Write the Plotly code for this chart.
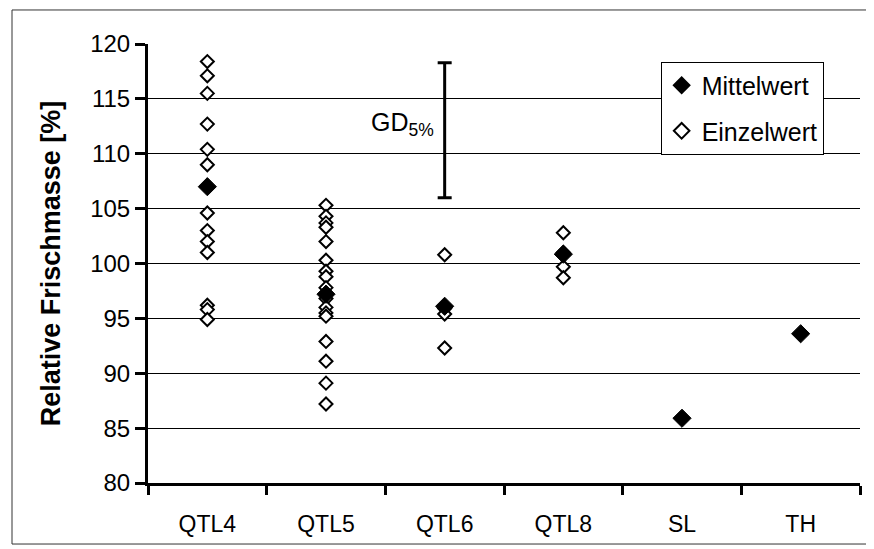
import plotly.graph_objects as go

categories = ["QTL4", "QTL5", "QTL6", "QTL8", "SL", "TH"]

# Mean values (Mittelwert)
mean_values = [107.0, 97.2, 96.1, 100.85, 85.9, 93.6]

# Single values (Einzelwert)
qtl4_values = [118.4, 117.1, 115.5, 112.7, 110.4, 109.0, 104.6, 103.0, 102.0, 101.0, 96.2, 95.8, 94.9]
qtl5_values = [105.3, 104.3, 103.7, 103.3, 102.0, 100.3, 99.3, 98.8, 97.8, 97.3, 96.8, 96.0, 95.5, 95.2, 92.9, 91.1, 89.1, 87.2]
qtl6_values = [100.8, 95.9, 95.4, 92.3]
qtl8_values = [102.8, 101.0, 99.7, 98.7]

# GD 5% bar
gd_low = 106.0
gd_high = 118.3
gd_category = "QTL6"

single_x = (["QTL4"] * len(qtl4_values) + ["QTL5"] * len(qtl5_values)
            + ["QTL6"] * len(qtl6_values) + ["QTL8"] * len(qtl8_values))
single_y = qtl4_values + qtl5_values + qtl6_values + qtl8_values

FONT = "Liberation Sans, Arial, sans-serif"

fig = go.Figure()

fig.add_trace(go.Scatter(
    x=single_x, y=single_y, mode="markers", name="Einzelwert",
    marker=dict(symbol="diamond", size=10, color="white",
                line=dict(color="black", width=2)),
    legendrank=2, legendgroup="einzel",
))

fig.add_trace(go.Scatter(
    x=categories, y=mean_values, mode="markers", name="Mittelwert",
    marker=dict(symbol="diamond", size=14, color="black",
                line=dict(color="black", width=1)),
    legendrank=1, legendgroup="mittel",
))

gd_mid = (gd_low + gd_high) / 2
gd_half = (gd_high - gd_low) / 2
fig.add_trace(go.Scatter(
    x=[gd_category], y=[gd_mid], mode="markers",
    marker=dict(size=1, color="rgba(0,0,0,0)"),
    error_y=dict(type="data", array=[gd_half], symmetric=True,
                 color="black", thickness=3, width=7),
    showlegend=False, hoverinfo="skip",
))

fig.add_annotation(
    x=gd_category, y=gd_mid, xref="x", yref="y",
    text="GD<sub>5%</sub>", showarrow=False,
    xanchor="right", yanchor="middle", xshift=-9, yshift=6,
    font=dict(family=FONT, size=25, color="black"),
)

# outer frame
fig.add_shape(type="rect", xref="paper", yref="paper",
              x0=-0.191, x1=1.0126, y0=-0.139, y1=1.0775,
              line=dict(color="#333333", width=1), layer="below")

# the page body has an 8px margin, so the figure is sized to fit the window
fig.update_layout(
    width=866, height=541,
    margin=dict(l=140, r=14, t=36, b=66, autoexpand=False),
    paper_bgcolor="white", plot_bgcolor="white",
    font=dict(family=FONT, size=22, color="black"),
    showlegend=True,
    legend=dict(
        x=0.72, y=0.96, xanchor="left", yanchor="top",
        bgcolor="white", bordercolor="black", borderwidth=1,
        font=dict(family=FONT, size=25, color="black"),
        itemsizing="constant", tracegroupgap=10, itemwidth=30,
    ),
    xaxis=dict(
        type="category", categoryorder="array", categoryarray=categories,
        range=[-0.5, len(categories) - 0.5], automargin=False,
        showline=True, linecolor="black", linewidth=3,
        ticks="outside", ticklen=9, tickwidth=3, tickcolor="black",
        tickson="boundaries", showgrid=False,
        tickfont=dict(family=FONT, size=23, color="black"),
        ticklabelstandoff=18,
    ),
    yaxis=dict(
        range=[80, 120], dtick=5, tick0=80, automargin=False,
        showline=True, linecolor="black", linewidth=3,
        ticks="outside", ticklen=10, tickwidth=3, tickcolor="black",
        showgrid=True, gridcolor="black", gridwidth=1, zeroline=False,
        tickfont=dict(family=FONT, size=24, color="black"),
        title=dict(text="<b>Relative Frischmasse [%]</b>",
                   font=dict(family=FONT, size=27, color="black"),
                   standoff=22),
    ),
)

fig.write_html("out.html")
